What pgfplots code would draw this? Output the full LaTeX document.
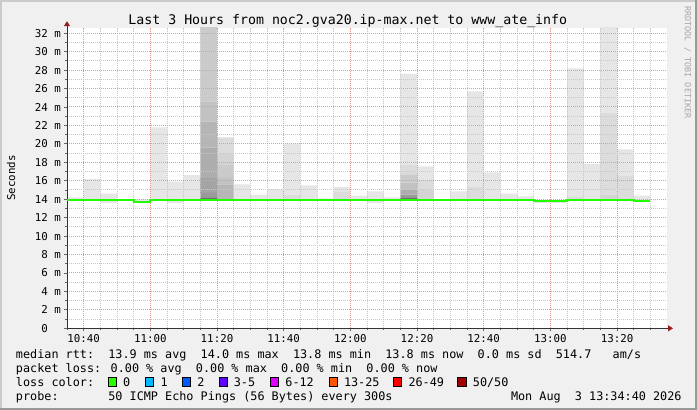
\documentclass[border=0pt]{standalone}
\usepackage{fontspec}
\setmainfont{DejaVu Sans Mono}
\usepackage{pgfplots}
\pgfplotsset{compat=1.18}
\usepackage{pgfplotstable}
\usetikzlibrary{arrows.meta}

\definecolor{backc}{HTML}{F0F0F0}
\definecolor{shadea}{HTML}{CBCBCB}
\definecolor{shadeb}{HTML}{999999}
\definecolor{arrowc}{HTML}{961E1E}
\definecolor{mgridc}{HTML}{F09494}
\definecolor{gridc}{HTML}{C8C8C8}
\definecolor{medc}{HTML}{22FF00}
\definecolor{L1}{HTML}{6E6E6E}
\definecolor{L2}{HTML}{9A9A9A}
\definecolor{L3}{HTML}{A4A4A4}
\definecolor{L4}{HTML}{ADADAD}
\definecolor{L5}{HTML}{B6B6B6}
\definecolor{L6}{HTML}{C2C2C2}
\definecolor{L7}{HTML}{CBCBCB}
\definecolor{L8}{HTML}{D4D4D4}
\definecolor{L9}{HTML}{DCDCDC}
\definecolor{L10}{HTML}{E6E6E6}
\definecolor{loss0}{HTML}{26FF00}
\definecolor{loss1}{HTML}{00B8FF}
\definecolor{loss2}{HTML}{0059FF}
\definecolor{loss3}{HTML}{5E00FF}
\definecolor{loss6}{HTML}{DD00FF}
\definecolor{loss13}{HTML}{FF5500}
\definecolor{loss26}{HTML}{FF0000}
\definecolor{loss50}{HTML}{A10000}

% smoke layers per 5 min interval (x = minutes after 10:35, bar centre)
% base = lowest ping, l1..l10 = stacked layer heights in ms, dark to light
\pgfplotstableread{
x     base l1  l2  l3  l4  l5  l6  l7  l8  l9  l10
2.5   13.8 0   0   0   0   0   0   0   0   0   0.4
7.5   13.8 0   0   0   0   0   0   0   0   0   2.4
12.5  13.6 0   0   0   0   0   0   0   0   0   1.0
17.5  13.9 0   0   0   0   0   0   0   0   0   0
22.5  13.7 0   0   0   0   0   0   0   0   0   0.3
27.5  13.8 0   0   0   0   0   0   0   0   0   8.0
32.5  13.6 0   0   0   0   0   0   0   0   0   2.3
37.5  13.8 0   0   0   0   0   0   0   0   0   2.8
42.5  13.9 0.3 0.5 1.6 3.3 2.8 2.2 9.4 0   0   0
47.5  13.9 0   0   0   0   1.7 0.7 1.4 1.3 1.7 0
52.5  13.8 0   0   0   0   0   0   0   0   0   1.8
57.5  13.8 0   0   0   0   0   0   0   0   0   0.7
62.5  13.8 0   0   0   0   0   0   0   0   0   1.3
67.5  13.8 0   0   0   0   0   0   0   0   0.7 5.5
72.5  13.8 0   0   0   0   0   0   0   0   0   1.7
77.5  13.9 0   0   0   0   0   0   0   0   0   0.2
82.5  13.8 0   0   0   0   0   0   0   0   1.0 0.5
87.5  13.8 0   0   0   0   0   0   0   0   0   0.6
92.5  13.6 0   0   0   0   0   0   0   0   0   1.25
97.5  13.8 0   0   0   0   0   0   0   0   0   0.4
102.5 13.9 0.3 0.3 0   0.5 0   0.8 0.9 0   1.0 9.9
107.5 13.9 0   0   0   0   0   0   0   1.1 1.1 1.45
112.5 13.9 0   0   0   0   0   0   0   0   0   0.1
117.5 13.8 0   0   0   0   0   0   0   0   0   1.05
122.5 13.8 0   0   0   0   0   0   0   0   1.6 10.3
127.5 13.8 0   0   0   0   0   0   0   0   0   3.1
132.5 13.8 0   0   0   0   0   0   0   0   0   0.8
137.5 13.8 0   0   0   0   0   0   0   0   0   0.5
142.5 13.6 0   0   0   0   0   0   0   0   0   0.2
147.5 13.6 0   0   0   0   0   0   0   0   0   0.2
152.5 13.8 0   0   0   0   0   0   0   0   0.5 13.9
157.5 13.8 0   0   0   0   0   0   0   0   0   4.0
162.5 13.8 0   0   0   0   0   0   0   0.7 8.9 10.6
167.5 13.8 0   0   0   0   0   0   0   0   2.7 2.9
172.5 13.7 0   0   0   0   0   0   0   0   0   0.7
}\smoke

% median rtt, one value per interval start
\pgfplotstableread{
x   med
0   13.9
5   13.9
10  13.9
15  13.9
20  13.75
25  13.9
30  13.9
35  13.9
40  13.9
45  13.9
50  13.9
55  13.9
60  13.9
65  13.9
70  13.9
75  13.9
80  13.9
85  13.9
90  13.9
95  13.9
100 13.9
105 13.9
110 13.9
115 13.9
120 13.9
125 13.9
130 13.9
135 13.9
140 13.8
145 13.8
150 13.9
155 13.9
160 13.9
165 13.9
170 13.8
175 13.8
}\median

\newcommand\tickfont{\fontsize{10.8bp}{12bp}\selectfont}
\newcommand\legfont{\fontsize{11.8bp}{14bp}\selectfont}

\begin{document}
\begin{tikzpicture}
\useasboundingbox (0,0) rectangle (697bp,410bp);
\fill[backc] (0,0) rectangle (697bp,410bp);
\fill[shadea] (0,408bp) rectangle (697bp,410bp);
\fill[shadea] (0,0) rectangle (2bp,410bp);
\fill[shadeb] (695bp,0) rectangle (697bp,410bp);
\fill[shadeb] (0,0) rectangle (697bp,2bp);

\begin{axis}[
  at={(67bp,81.7bp)}, anchor=south west,
  scale only axis, width=600bp, height=300.6bp,
  xmin=0, xmax=180, ymin=0, ymax=32.6,
  axis background/.style={fill=white},
  axis lines=left, axis on top,
  axis line style={black!80, line width=1bp},
  x axis line style={shorten >=-6bp, -{Triangle[length=5bp,width=6bp,color=arrowc]}},
  y axis line style={shorten >=-6.5bp, -{Triangle[length=5bp,width=6bp,color=arrowc]}},
  ybar stacked, bar width=5,
  xtick={5,25,45,65,85,105,125,145,165},
  xticklabels={10:40,11:00,11:20,11:40,12:00,12:20,12:40,13:00,13:20},
  minor xtick={0,10,15,20,30,35,40,50,55,60,70,75,80,90,95,100,110,115,120,130,135,140,150,155,160,170,175},
  ytick={0,2,...,32},
  yticklabels={0\phantom{~m},2 m,4 m,6 m,8 m,10 m,12 m,14 m,16 m,18 m,20 m,22 m,24 m,26 m,28 m,30 m,32 m},
  minor ytick={1,3,...,31},
  grid=both,
  major grid style={draw=mgridc, line width=1bp, dash pattern=on 1bp off 1bp},
  minor grid style={draw=gridc, line width=1bp, dash pattern=on 1bp off 1bp},
  tick align=outside,
  major tick length=3bp, minor tick length=2bp,
  tick style={black!60, line width=0.8bp},
  tick label style={font=\tickfont},
  xticklabel style={anchor=north, inner sep=0pt, yshift=-3bp},
  yticklabel style={anchor=east, inner sep=0pt, xshift=-3bp},
]
\addplot[draw=none, fill=none] table[x=x, y=base] {\smoke};
\addplot[draw=none, fill=L1]  table[x=x, y=l1]  {\smoke};
\addplot[draw=none, fill=L2]  table[x=x, y=l2]  {\smoke};
\addplot[draw=none, fill=L3]  table[x=x, y=l3]  {\smoke};
\addplot[draw=none, fill=L4]  table[x=x, y=l4]  {\smoke};
\addplot[draw=none, fill=L5]  table[x=x, y=l5]  {\smoke};
\addplot[draw=none, fill=L6]  table[x=x, y=l6]  {\smoke};
\addplot[draw=none, fill=L7]  table[x=x, y=l7]  {\smoke};
\addplot[draw=none, fill=L8]  table[x=x, y=l8]  {\smoke};
\addplot[draw=none, fill=L9]  table[x=x, y=l9]  {\smoke};
\addplot[draw=none, fill=L10] table[x=x, y=l10] {\smoke};
\end{axis}

\begin{axis}[
  at={(67bp,81.7bp)}, anchor=south west,
  scale only axis, width=600bp, height=300.6bp,
  xmin=0, xmax=180, ymin=0, ymax=32.6,
  hide axis,
]
\addplot[const plot, draw=medc, line width=2bp] table[x=x, y=med] {\median};
\end{axis}

% title, axis label, watermark
\node[anchor=base, inner sep=0pt, font=\fontsize{13.25bp}{15bp}\selectfont]
  at (347.8bp,385.3bp) {Last 3 Hours from noc2.gva20.ip-max.net to www\_ate\_info};
\node[rotate=90, inner sep=0pt, font=\tickfont] at (11bp,232bp) {Seconds};
\node[rotate=-90, anchor=west, inner sep=0pt, text={rgb,255:red,168;green,168;blue,168},
  font=\fontsize{8.5bp}{10bp}\selectfont] at (687.7bp,404bp) {RRDTOOL / TOBI OETIKER};

% legend block
\node[anchor=base west, inner sep=0pt, font=\legfont] at (15.8bp,51.7bp)
  {median rtt:~~13.9 ms avg~~14.0 ms max~~13.8 ms min~~13.8 ms now~~0.0 ms sd~~514.7~~~am/s};
\node[anchor=base west, inner sep=0pt, font=\legfont] at (15.8bp,37.7bp)
  {packet loss: 0.00 \% avg~~0.00 \% max~~0.00 \% min~~0.00 \% now};
\node[anchor=base west, inner sep=0pt, font=\legfont] at (15.8bp,23.7bp) {loss color:};
\foreach \bx/\lx/\c/\t in {108/123/loss0/0, 145.3/160.4/loss1/1, 182.2/197.2/loss2/2,
    219/233.6/loss3/3-5, 270/285.2/loss6/6-12, 329/343.8/loss13/13-25,
    393/408.3/loss26/26-49} {
  \filldraw[fill=\c, draw=black, line width=0.8bp] (\bx bp,24bp) rectangle ++(8.4bp,8.3bp);
  \node[anchor=base west, inner sep=0pt, font=\legfont] at (\lx bp,23.7bp) {\t};
}
\filldraw[fill=loss50, draw=black, line width=0.8bp] (457.8bp,24bp) rectangle ++(8.4bp,8.3bp);
\node[anchor=base west, inner sep=0pt, font=\legfont] at (472.7bp,23.7bp) {50/50};
\node[anchor=base west, inner sep=0pt, font=\legfont] at (15.8bp,9.7bp)
  {probe:~~~~~~~50 ICMP Echo Pings (56 Bytes) every 300s};
\node[anchor=base east, inner sep=0pt, font=\legfont] at (681.7bp,9.7bp)
  {Mon Aug~~3 13:34:40 2026};
\end{tikzpicture}
\end{document}
